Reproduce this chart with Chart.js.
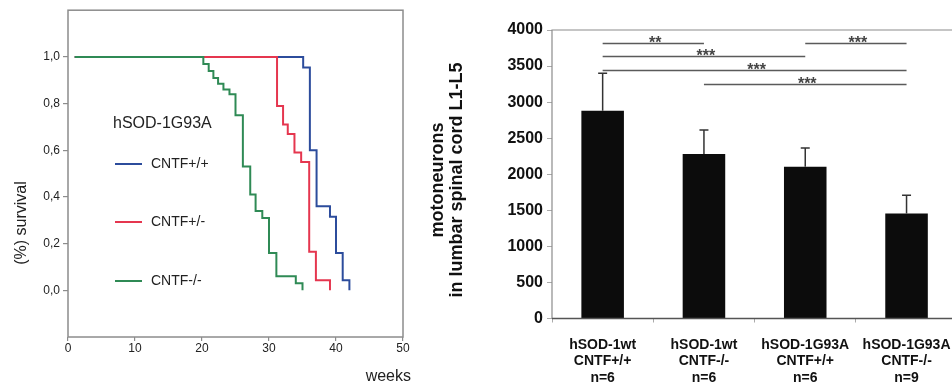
<!DOCTYPE html>
<html><head><meta charset="utf-8">
<script src="https://cdn.jsdelivr.net/npm/chart.js@4.4.1/dist/chart.umd.min.js"></script>
<style>
html,body{margin:0;padding:0;background:#fff;overflow:hidden;width:952px;height:385px;}
#l{position:absolute;left:0;top:0;width:420px;height:385px;}
#r{position:absolute;left:420px;top:0;width:545px;height:385px;}
</style></head><body>
<div id="l"><canvas id="c1"></canvas></div>
<div id="r"><canvas id="c2"></canvas></div>
<script>
// ---------- Left panel: survival (Kaplan-Meier) ----------
const weeksGreen = [1, 20.2, 21.0, 21.7, 22.4, 23.2, 24.1, 25.0, 26.1, 27.2, 28.0, 29.0, 30.0, 31.1, 34.0, 35.0];
const survGreen  = [1.0, 0.97, 0.94, 0.91, 0.885, 0.86, 0.84, 0.75, 0.53, 0.41, 0.34, 0.31, 0.16, 0.06, 0.03, 0.0];
const weeksRed   = [1, 31.2, 32.1, 32.8, 33.8, 34.8, 36.0, 37.0, 39.1];
const survRed    = [1.0, 0.79, 0.71, 0.67, 0.59, 0.55, 0.165, 0.043, 0.0];
const weeksBlue  = [1, 35.1, 36.1, 37.1, 39.1, 40.0, 41.0, 42.0];
const survBlue   = [1.0, 0.955, 0.60, 0.36, 0.315, 0.16, 0.043, 0.0];
const survivalTicks = [0, 0.2, 0.4, 0.6, 0.8, 1.0];
const weekTicks = [0, 10, 20, 30, 40, 50];
const legendTitle = 'hSOD-1G93A';
const seriesNames = ['CNTF-/-', 'CNTF+/-', 'CNTF+/+'];
const seriesColors = ['#2f8a55', '#e5364f', '#2c4c9c'];

// ---------- Right panel: motoneuron counts ----------
const genotype = ['hSOD-1wt', 'hSOD-1wt', 'hSOD-1G93A', 'hSOD-1G93A'];
const cntf     = ['CNTF+/+', 'CNTF-/-', 'CNTF+/+', 'CNTF-/-'];
const nLabels  = ['n=6', 'n=6', 'n=6', 'n=9'];
const motoneurons = [2880, 2280, 2105, 1455];
const motoErr     = [520, 335, 260, 255];
const countTicks  = [0, 500, 1000, 1500, 2000, 2500, 3000, 3500, 4000];
const bracketFrom  = [0, 0, 0, 1, 2];
const bracketTo    = [1, 2, 3, 3, 3];
const bracketLevel = [3820, 3640, 3450, 3255, 3815];
const bracketStars = ['**', '***', '***', '***', '***'];

const FONT = '"Liberation Sans", Arial, sans-serif';

function zip(xs, ys){ return xs.map((x,i)=>({x:x, y:ys[i]})); }

const leftDeco = {
  id:'leftDeco',
  afterDraw(chart){
    const ctx = chart.ctx, a = chart.chartArea;
    ctx.save();
    ctx.strokeStyle = '#8c8c8c'; ctx.lineWidth = 1.5;
    ctx.strokeRect(a.left, a.top, a.right - a.left, a.bottom - a.top);
    ctx.fillStyle = '#222';
    ctx.textBaseline = 'middle';
    ctx.font = '16px ' + FONT;
    ctx.textAlign = 'left';
    ctx.fillText(legendTitle, 113, 124);
    const ys = [164, 222, 281];
    const order = [2, 1, 0];
    ctx.font = '14px ' + FONT;
    order.forEach((di, k) => {
      ctx.strokeStyle = seriesColors[di]; ctx.lineWidth = 2;
      ctx.beginPath(); ctx.moveTo(115, ys[k]); ctx.lineTo(142, ys[k]); ctx.stroke();
      ctx.fillText(seriesNames[di], 151, ys[k] + 0.5);
    });
    ctx.font = '16px ' + FONT;
    ctx.textAlign = 'right';
    ctx.fillText('weeks', 411, 377);
    ctx.translate(22, 223);
    ctx.rotate(-Math.PI/2);
    ctx.textAlign = 'center';
    ctx.fillText('(%) survival', 0, 0);
    ctx.restore();
  }
};

new Chart(document.getElementById('c1'), {
  type: 'scatter',
  data: {
    datasets: [
      {label: seriesNames[0], data: zip(weeksGreen, survGreen), borderColor: seriesColors[0]},
      {label: seriesNames[1], data: zip(weeksRed, survRed), borderColor: seriesColors[1]},
      {label: seriesNames[2], data: zip(weeksBlue, survBlue), borderColor: seriesColors[2]}
    ].map(d => Object.assign(d, {showLine: true, stepped: true, pointRadius: 0, borderWidth: 2, fill: false}))
  },
  options: {
    responsive: true, maintainAspectRatio: false, animation: false,
    layout: {padding: {top: 10, right: 17, left: 0, bottom: 0}},
    plugins: {legend: {display: false}, tooltip: {enabled: false}},
    scales: {
      x: {
        type: 'linear', min: 0, max: 50,
        afterBuildTicks: s => { s.ticks = weekTicks.map(v => ({value: v})); },
        afterFit: s => { s.height = 48; },
        border: {display: false},
        grid: {drawOnChartArea: false, drawTicks: true, tickLength: 4, color: '#8c8c8c', lineWidth: 1.2},
        ticks: {padding: 0, color: '#222', font: {family: FONT, size: 12}, maxRotation: 0}
      },
      y: {
        type: 'linear', min: -0.2, max: 1.2,
        afterBuildTicks: s => { s.ticks = survivalTicks.map(v => ({value: v})); },
        afterFit: s => { s.width = 68; },
        border: {display: false},
        grid: {drawOnChartArea: false, drawTicks: true, tickLength: 5, color: '#8c8c8c', lineWidth: 1.2},
        ticks: {padding: 3, color: '#222', font: {family: FONT, size: 12},
          callback: v => v.toFixed(1).replace('.', ',')}
      }
    }
  },
  plugins: [leftDeco]
});

const rightDeco = {
  id:'rightDeco',
  afterDatasetsDraw(chart){
    const ctx = chart.ctx, a = chart.chartArea;
    const y = chart.scales.y;
    const meta = chart.getDatasetMeta(0);
    ctx.save();
    // error bars
    ctx.strokeStyle = '#333'; ctx.lineWidth = 1.5;
    meta.data.forEach((bar, i) => {
      const yt = y.getPixelForValue(motoneurons[i] + motoErr[i]);
      ctx.beginPath();
      ctx.moveTo(bar.x, bar.y); ctx.lineTo(bar.x, yt);
      ctx.moveTo(bar.x - 4.5, yt); ctx.lineTo(bar.x + 4.5, yt);
      ctx.stroke();
    });
    // significance brackets
    ctx.strokeStyle = '#5a5a5a'; ctx.lineWidth = 1.5;
    ctx.fillStyle = '#444';
    ctx.font = 'bold 16px ' + FONT;
    ctx.textAlign = 'center'; ctx.textBaseline = 'alphabetic';
    bracketFrom.forEach((f, k) => {
      const x1 = meta.data[f].x, x2 = meta.data[bracketTo[k]].x;
      const yy = Math.round(y.getPixelForValue(bracketLevel[k])) + 0.5;
      ctx.beginPath(); ctx.moveTo(x1, yy); ctx.lineTo(x2, yy); ctx.stroke();
      ctx.fillText(bracketStars[k], (x1 + x2) / 2 + 2, yy + 4);
    });
    // frame
    ctx.strokeStyle = '#8c8c8c'; ctx.lineWidth = 1.2;
    ctx.beginPath();
    ctx.moveTo(a.left, a.bottom); ctx.lineTo(a.left, a.top); ctx.lineTo(chart.width, a.top);
    ctx.stroke();
    ctx.strokeStyle = '#555'; ctx.lineWidth = 1.5;
    ctx.beginPath(); ctx.moveTo(a.left, a.bottom); ctx.lineTo(chart.width, a.bottom); ctx.stroke();
    // y title
    ctx.fillStyle = '#111';
    ctx.font = 'bold 18px ' + FONT;
    ctx.textBaseline = 'middle';
    ctx.translate(0, 180);
    ctx.rotate(-Math.PI/2);
    ctx.fillText('motoneurons', 0, 18);
    ctx.fillText('in lumbar spinal cord L1-L5', 0, 37);
    ctx.restore();
  }
};

new Chart(document.getElementById('c2'), {
  type: 'bar',
  data: {
    labels: genotype.map((g, i) => [g, cntf[i], nLabels[i]]),
    datasets: [{data: motoneurons, backgroundColor: '#0c0c0c', borderWidth: 0,
      categoryPercentage: 1.0, barPercentage: 0.42}]
  },
  options: {
    responsive: true, maintainAspectRatio: false, animation: false,
    layout: {padding: {top: 30, right: 4, left: 0, bottom: 0}},
    plugins: {legend: {display: false}, tooltip: {enabled: false}},
    scales: {
      x: {
        afterFit: s => { s.height = 66.5; },
        border: {display: false},
        grid: {offset: true, drawOnChartArea: false, drawTicks: true, tickLength: 4, color: '#aaa'},
        ticks: {padding: 14, color: '#111', autoSkip: false, maxRotation: 0,
          font: {family: FONT, size: 14, weight: 'bold', lineHeight: 1.19}}
      },
      y: {
        min: 0, max: 4000,
        afterBuildTicks: s => { s.ticks = countTicks.map(v => ({value: v})); },
        afterFit: s => { s.width = 132; },
        border: {display: false},
        grid: {drawOnChartArea: false, drawTicks: true, tickLength: 5, color: '#aaa'},
        ticks: {padding: 4, color: '#111', font: {family: FONT, size: 16, weight: 'bold'},
          callback: v => String(v)}
      }
    }
  },
  plugins: [rightDeco]
});
</script>
</body></html>
